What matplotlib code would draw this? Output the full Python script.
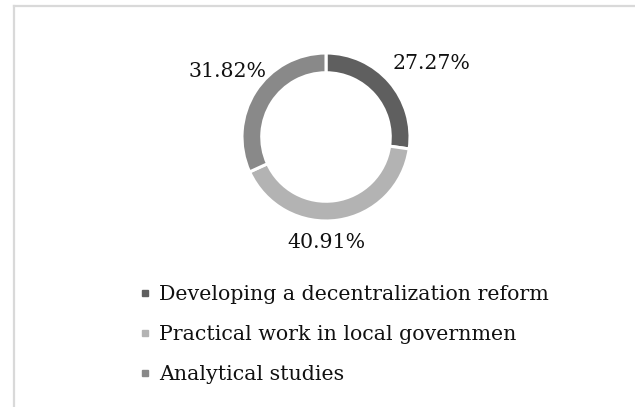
import matplotlib
matplotlib.use("Agg")
import matplotlib.pyplot as plt
from matplotlib.lines import Line2D

# data
categories = ["Developing a decentralization reform",
              "Practical work in local governmen",
              "Analytical studies"]
shares = [27.27, 40.91, 31.82]
colors = ["#5f5f5f", "#b3b3b3", "#898989"]

# where the percentage labels sit (pie data units)
label_xy = [(1.25, 0.88), (0.0, -1.25), (-1.17, 0.78)]

plt.rcParams["font.family"] = ["DejaVu Serif"]

fig = plt.figure(figsize=(6.35, 4.07), dpi=100)

ax = fig.add_axes([242 / 635, 1 - 221 / 407, 168 / 635, 168 / 407])
wedges, _ = ax.pie(shares, colors=colors, startangle=90, counterclock=False,
                   radius=1.0,
                   wedgeprops=dict(width=0.235, edgecolor="white", linewidth=2.2))
ax.set_xlim(-1, 1)
ax.set_ylim(-1, 1)
ax.set_aspect("equal")
ax.axis("off")

for val, (x, y) in zip(shares, label_xy):
    ax.text(x, y, "%.2f%%" % val, ha="center", va="center", fontsize=14.8,
            color="#111111", clip_on=False)

# frame: only top and left edges visible
fig.add_artist(Line2D([13.5 / 635, 1], [1 - 5.5 / 407, 1 - 5.5 / 407],
                      transform=fig.transFigure, color="#d9d9d9", lw=1.6))
fig.add_artist(Line2D([13.5 / 635, 13.5 / 635], [0, 1 - 5.5 / 407],
                      transform=fig.transFigure, color="#d9d9d9", lw=1.6))

handles = [Line2D([0], [0], marker="s", ls="none", markersize=5,
                  markerfacecolor=c, markeredgecolor=c) for c in colors]
fig.legend(handles, categories, loc="upper left",
           bbox_to_anchor=(128 / 635, 1 - 275 / 407), frameon=False,
           fontsize=14.8, handlelength=0.7, handletextpad=0.3,
           labelspacing=1.02, borderpad=0, labelcolor="#111111")

fig.savefig("out.png", dpi=100)
